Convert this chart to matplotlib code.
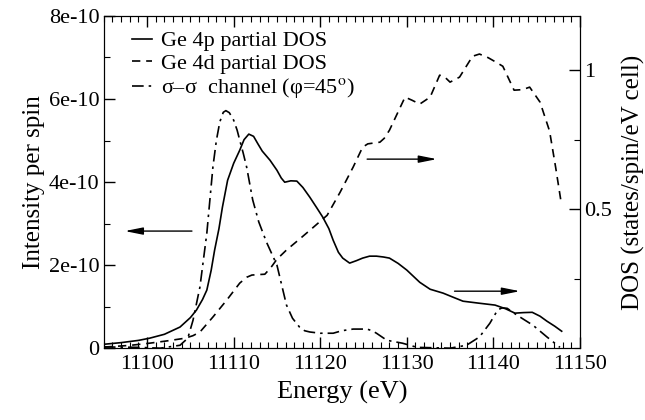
import numpy as np
import matplotlib
matplotlib.use("Agg")
import matplotlib.pyplot as plt
from matplotlib.ticker import MultipleLocator

plt.rcParams['font.family'] = ['Liberation Serif', 'DejaVu Serif']
plt.rcParams['mathtext.fontset'] = 'stix'

# Ge 4p partial DOS (right axis)
e_4p = [11095.0, 11097.0, 11099.0, 11100.3, 11102.0, 11103.8, 11105.0, 11105.7,
        11106.4, 11106.9, 11107.4, 11107.8, 11108.3, 11108.7, 11109.3, 11110.0,
        11110.7, 11111.2, 11111.75, 11112.3, 11112.8, 11113.3, 11114.2, 11115.0,
        11115.5, 11115.9, 11116.6, 11117.3, 11118.0, 11118.8, 11119.6, 11120.3,
        11121.0, 11121.5, 11122.1, 11122.6, 11123.4, 11124.2, 11124.9, 11125.7,
        11126.5, 11127.3, 11128.0, 11129.0, 11130.0, 11131.5, 11132.7, 11134.2,
        11135.3, 11136.5, 11138.3, 11140.2, 11141.4, 11142.5, 11143.5, 11144.5,
        11145.4, 11146.2, 11147.1, 11147.9]
dos_4p = [0.014, 0.020, 0.028, 0.036, 0.050, 0.076, 0.110, 0.137,
          0.175, 0.209, 0.280, 0.353, 0.430, 0.507, 0.604, 0.665,
          0.712, 0.750, 0.770, 0.762, 0.735, 0.709, 0.676, 0.640,
          0.612, 0.597, 0.602, 0.601, 0.578, 0.543, 0.505, 0.471,
          0.430, 0.388, 0.345, 0.324, 0.306, 0.315, 0.324, 0.331,
          0.331, 0.328, 0.324, 0.305, 0.281, 0.237, 0.212, 0.198,
          0.184, 0.169, 0.162, 0.155, 0.142, 0.126, 0.128, 0.129,
          0.115, 0.097, 0.079, 0.061]

# Ge 4d partial DOS (right axis)
e_4d = [11095.0, 11098.0, 11100.3, 11102.5, 11104.4, 11105.3, 11106.1, 11107.6,
        11109.2, 11110.7, 11111.5, 11112.1, 11113.0, 11113.6, 11114.3, 11115.0,
        11116.1, 11117.6, 11119.1, 11120.8, 11122.3, 11123.8, 11124.9, 11125.5,
        11126.9, 11127.4, 11128.0, 11129.8, 11130.6, 11131.5, 11132.7, 11133.8,
        11134.4, 11135.0, 11136.1, 11137.6, 11138.4, 11139.4, 11140.3, 11141.1,
        11142.4, 11143.4, 11144.2, 11145.4, 11146.5, 11147.2, 11147.8]
dos_4d = [0.004, 0.010, 0.018, 0.027, 0.036, 0.045, 0.058, 0.112,
          0.173, 0.234, 0.255, 0.263, 0.265, 0.266, 0.290, 0.320,
          0.353, 0.392, 0.432, 0.478, 0.561, 0.651, 0.723, 0.735,
          0.741, 0.755, 0.784, 0.903, 0.892, 0.878, 0.903, 0.982,
          0.975, 0.957, 0.975, 1.050, 1.058, 1.045, 1.029, 1.014,
          0.928, 0.930, 0.939, 0.885, 0.781, 0.651, 0.532]

# sigma-sigma channel intensity (left axis, units of 1e-10)
e_ss = [11095.0, 11099.0, 11101.5, 11103.8, 11104.7, 11105.3, 11106.1, 11106.9,
        11107.6, 11108.0, 11108.4, 11108.8, 11109.1, 11109.5, 11110.0, 11110.4,
        11110.7, 11111.1, 11111.5, 11112.2, 11112.9, 11113.8, 11115.0, 11116.1,
        11116.8, 11117.6, 11118.2, 11118.8, 11120.0, 11121.5, 11122.5, 11123.8,
        11125.4, 11126.0, 11126.5, 11127.7, 11129.5, 11131.2, 11135.0, 11136.9,
        11138.4, 11139.6, 11140.5, 11141.0, 11141.6, 11142.7, 11144.6, 11146.2,
        11147.7]
int_ss = [0.03, 0.02, 0.0, 0.07, 0.24, 0.67, 1.47, 2.77,
          4.36, 5.00, 5.45, 5.68, 5.72, 5.67, 5.49, 5.25,
          5.01, 4.70, 4.36, 3.57, 3.04, 2.55, 2.00, 1.04,
          0.72, 0.51, 0.42, 0.39, 0.36, 0.36, 0.42, 0.46,
          0.46, 0.42, 0.36, 0.19, 0.12, 0.02, 0.0, 0.07,
          0.27, 0.60, 0.92, 0.97, 0.96, 0.80, 0.55, 0.27,
          0.02]

left_ticks = [0, 2e-10, 4e-10, 6e-10, 8e-10]
left_labels = ['0', '2e-10', '4e-10', '6e-10', '8e-10']
right_ticks = [0.5, 1.0]
right_labels = ['0.5', '1']
x_ticks = [11100, 11110, 11120, 11130, 11140, 11150]

fig = plt.figure(figsize=(6.45, 4.2), dpi=100)
ax = fig.add_axes([0.161, 0.171, 0.738, 0.791])
ax2 = ax.twinx()

lw = 1.2
l1, = ax2.plot(e_4p, dos_4p, '-', color='black', lw=lw, label='Ge 4p partial DOS')
l2, = ax2.plot(e_4d, dos_4d, color='black', lw=lw, ls=(0, (5, 3.5)),
               label='Ge 4d partial DOS')
l3, = ax.plot(e_ss, np.array(int_ss) * 1e-10, color='black', lw=lw,
              ls=(0, (7, 3, 1.5, 3)),
              label='σ–σ  channel (φ=45$^{\\mathrm{o}}$)')

ax.set_xlim(11095, 11150)
ax.set_ylim(0, 8e-10)
ax2.set_ylim(0, 1.195)

ax.set_xticks(x_ticks)
ax.set_xticklabels([str(t) for t in x_ticks])
ax.xaxis.set_minor_locator(MultipleLocator(1))
ax.set_yticks(left_ticks)
ax.set_yticklabels(left_labels)
ax.yaxis.set_minor_locator(MultipleLocator(1e-10))
ax2.set_yticks(right_ticks)
ax2.set_yticklabels(right_labels)
ax2.yaxis.set_minor_locator(MultipleLocator(0.25))

for a in (ax, ax2):
    a.tick_params(which='major', direction='in', length=8, width=1, labelsize=16,
                  top=True)
    a.tick_params(which='minor', direction='in', length=4, width=0.8, top=True)
ax.tick_params(axis='x', pad=5)
ax.tick_params(axis='y', pad=3)
ax2.tick_params(axis='y', pad=3)

ax.set_xlabel('Energy (eV)', fontsize=19, labelpad=5)
ax.set_ylabel('Intensity per spin', fontsize=18, labelpad=3)
ax2.set_ylabel('DOS (states/spin/eV cell)', fontsize=18, labelpad=7)

ax.legend(handles=[l1, l2, l3], loc='upper left', frameon=False, fontsize=16,
          handlelength=0.9, handletextpad=0.4, labelspacing=0.1,
          bbox_to_anchor=(0.059, 0.955), borderaxespad=0, borderpad=0)

# arrows pointing to the relevant axis
arrow = dict(arrowstyle='-|>,head_length=0.9,head_width=0.18', color='black',
             lw=1, mutation_scale=12)
ax.annotate('', xy=(11097.1, 2.82e-10), xytext=(11105.5, 2.82e-10),
            arrowprops=arrow)
ax2.annotate('', xy=(11133.8, 0.68), xytext=(11125.1, 0.68), arrowprops=arrow)
ax2.annotate('', xy=(11143.4, 0.205), xytext=(11135.2, 0.205), arrowprops=arrow)

fig.savefig('out.png', dpi=100)
